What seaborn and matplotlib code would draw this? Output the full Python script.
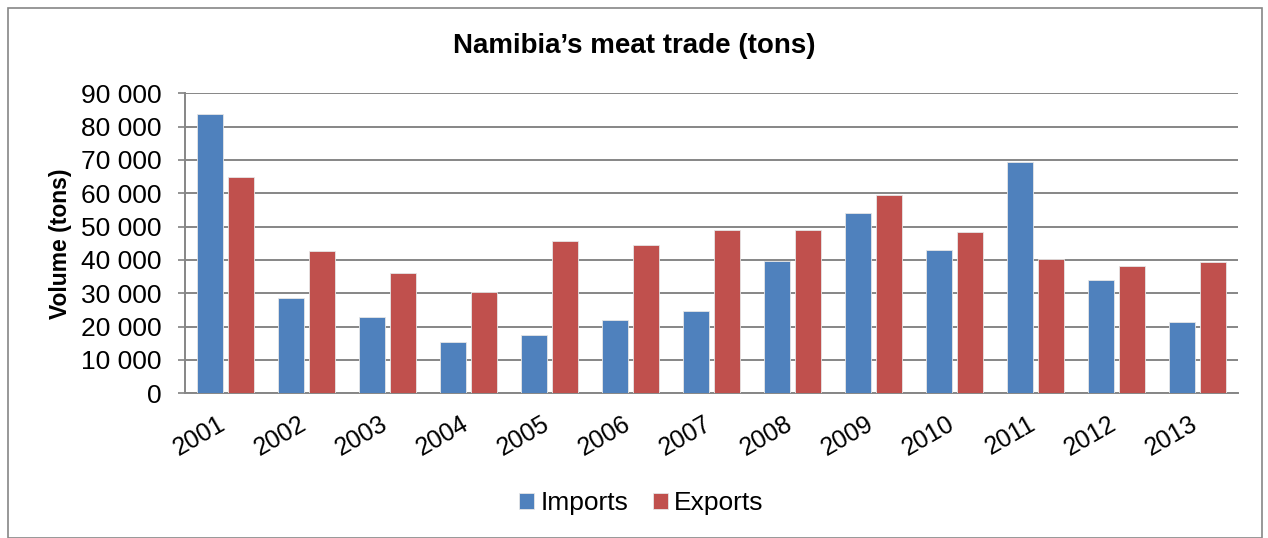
import matplotlib
matplotlib.use("Agg")
import matplotlib.pyplot as plt
import seaborn as sns
import pandas as pd
from matplotlib.ticker import FuncFormatter, MultipleLocator
from matplotlib.patches import Rectangle
from matplotlib.transforms import ScaledTranslation

years = ["2001", "2002", "2003", "2004", "2005", "2006", "2007",
         "2008", "2009", "2010", "2011", "2012", "2013"]
imports = [83700, 28500, 22800, 15400, 17500, 22000, 24800,
           39700, 54100, 43000, 69400, 33900, 21300]
exports = [64800, 42700, 36100, 30400, 45800, 44500, 49000,
           48900, 59600, 48300, 40300, 38300, 39300]
series_names = ["Imports", "Exports"]
colors = ["#4F81BD", "#C0504D"]

df = pd.DataFrame({
    "Year": years * 2,
    "Volume": imports + exports,
    "Series": [series_names[0]] * len(years) + [series_names[1]] * len(years),
})

sns.set_theme(style="white")
plt.rcParams["font.family"] = ["Liberation Sans", "DejaVu Sans"]
plt.rcParams["text.color"] = "black"
plt.rcParams["axes.labelcolor"] = "black"
plt.rcParams["xtick.color"] = "black"
plt.rcParams["ytick.color"] = "black"

fig = plt.figure(figsize=(12.68, 5.38), dpi=100)
ax = fig.add_axes([185 / 1268, 1 - 393.3 / 538, (1238 - 185) / 1268, 300 / 538])

sns.barplot(data=df, x="Year", y="Volume", hue="Series", palette=colors,
            saturation=1, width=0.76, gap=0.14, ax=ax, edgecolor="#e6e6e6",
            linewidth=0.6, zorder=3)

ax.set_ylim(0, 90000)
ax.set_xlim(-0.5, len(years) - 0.5)
ax.yaxis.set_major_locator(MultipleLocator(10000))
ax.yaxis.set_major_formatter(FuncFormatter(lambda v, p: f"{int(v):,}".replace(",", " ")))
ax.grid(axis="y", color="#868686", linewidth=1.4, zorder=0)
ax.set_axisbelow(True)
for s in ["top", "right"]:
    ax.spines[s].set_visible(False)
for s in ["left", "bottom"]:
    ax.spines[s].set_color("#868686")
    ax.spines[s].set_linewidth(1.4)
ax.tick_params(axis="y", labelsize=19, length=5, color="#868686", direction="out",
               left=True, labelcolor="black", pad=12)
ax.tick_params(axis="x", labelsize=18, length=0, pad=13, labelcolor="black")
shift = ScaledTranslation(4 / 100, 0, fig.dpi_scale_trans)
for lbl in ax.get_xticklabels():
    lbl.set_rotation(30)
    lbl.set_ha("right")
    lbl.set_rotation_mode("default")
    lbl.set_transform(lbl.get_transform() + shift)
ax.set_xlabel("")
ax.set_ylabel("Volume (tons)", fontsize=16.5, fontweight="bold", labelpad=6,
              color="black")

fig.suptitle("Namibia\u2019s meat trade (tons)", fontsize=20, fontweight="bold",
             y=1 - 46 / 538, va="center", color="black")

handles, labels = ax.get_legend_handles_labels()
ax.get_legend().remove()
fig.legend(handles, labels, loc="center",
           bbox_to_anchor=(641.5 / 1268, 1 - 503 / 538),
           ncol=2, frameon=False, fontsize=19, handlelength=0.55, handleheight=0.55,
           handletextpad=0.25, columnspacing=0.95, labelcolor="black")

fig.patches.append(Rectangle((8 / 1268, 0.0), 1254 / 1268, 530 / 538,
                             transform=fig.transFigure, fill=False,
                             edgecolor="#868686", linewidth=1.2))

fig.savefig("out.png", dpi=100)
